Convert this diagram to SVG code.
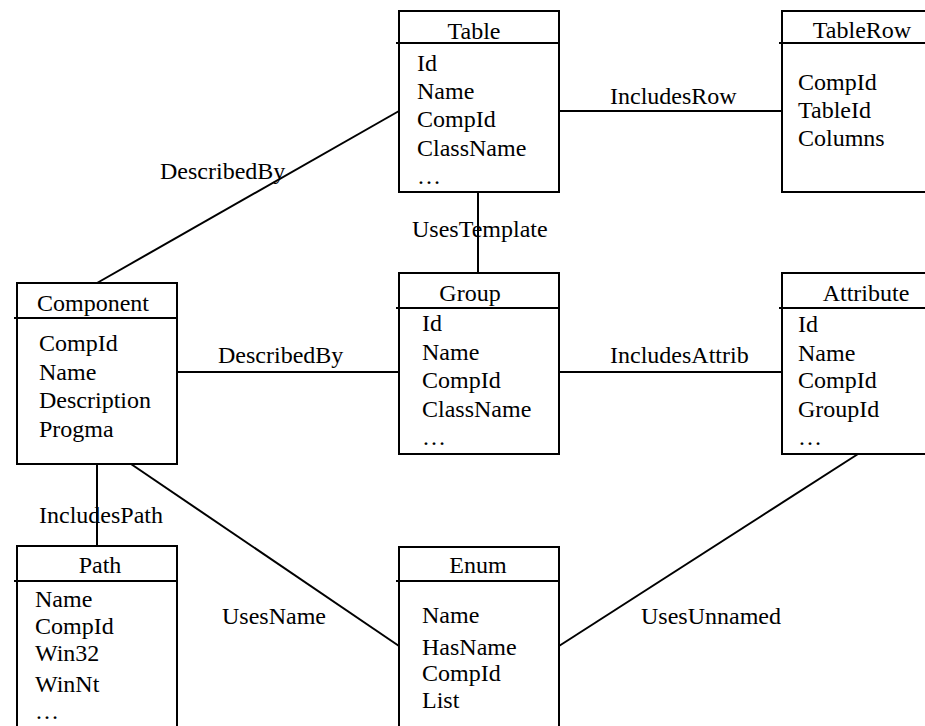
<svg xmlns="http://www.w3.org/2000/svg" width="925" height="726" viewBox="0 0 925 726">
<style>
.box{fill:#fff;stroke:#000;stroke-width:2}
.div{stroke:#000;stroke-width:2}
.con line{stroke:#000;stroke-width:2}
text{font-family:"Liberation Serif","Times New Roman",serif;font-size:24px;fill:#000}
.t{text-anchor:middle}
</style>
<rect width="925" height="726" fill="#fff"/>
<g id="connectors" class="con">
<line x1="559" y1="111" x2="782" y2="111"/>
<line x1="399" y1="111" x2="97" y2="283"/>
<line x1="478" y1="192" x2="478" y2="273"/>
<line x1="177" y1="372" x2="399" y2="372"/>
<line x1="559" y1="372" x2="782" y2="372"/>
<line x1="97" y1="464" x2="97" y2="546"/>
<line x1="131" y1="464" x2="399" y2="646"/>
<line x1="858" y1="454" x2="559" y2="646"/>
<text x="610" y="104">IncludesRow</text>
<text x="160" y="179">DescribedBy</text>
<text x="412" y="237">UsesTemplate</text>
<text x="218" y="363">DescribedBy</text>
<text x="610" y="363">IncludesAttrib</text>
<text x="39" y="523">IncludesPath</text>
<text x="222" y="624">UsesName</text>
<text x="641" y="624">UsesUnnamed</text>
</g>
<g id="table">
<rect class="box" x="399" y="11" width="160" height="181"/>
<line class="div" x1="396" y1="43" x2="559" y2="43"/>
<text class="t" x="474" y="39">Table</text>
<text x="417" y="71">Id</text>
<text x="417" y="99">Name</text>
<text x="417" y="127">CompId</text>
<text x="417" y="156">ClassName</text>
<text x="417" y="184">…</text>
</g>
<g id="tablerow">
<rect class="box" x="782" y="11" width="160" height="181"/>
<line class="div" x1="779" y1="43" x2="942" y2="43"/>
<text class="t" x="862" y="38">TableRow</text>
<text x="798" y="90">CompId</text>
<text x="798" y="118">TableId</text>
<text x="798" y="146">Columns</text>
</g>
<g id="component">
<rect class="box" x="17" y="283" width="160" height="181"/>
<line class="div" x1="14" y1="318" x2="177" y2="318"/>
<text class="t" x="93" y="311">Component</text>
<text x="39" y="351">CompId</text>
<text x="39" y="380">Name</text>
<text x="39" y="408">Description</text>
<text x="39" y="437">Progma</text>
</g>
<g id="group">
<rect class="box" x="399" y="273" width="160" height="181"/>
<line class="div" x1="396" y1="308" x2="559" y2="308"/>
<text class="t" x="470" y="301">Group</text>
<text x="422" y="331">Id</text>
<text x="422" y="360">Name</text>
<text x="422" y="388">CompId</text>
<text x="422" y="417">ClassName</text>
<text x="422" y="445">…</text>
</g>
<g id="attribute">
<rect class="box" x="782" y="273" width="160" height="181"/>
<line class="div" x1="779" y1="308" x2="942" y2="308"/>
<text class="t" x="866" y="301">Attribute</text>
<text x="798" y="332">Id</text>
<text x="798" y="361">Name</text>
<text x="798" y="388">CompId</text>
<text x="798" y="417">GroupId</text>
<text x="798" y="445">…</text>
</g>
<g id="path">
<rect class="box" x="17" y="546" width="160" height="190"/>
<line class="div" x1="14" y1="581" x2="177" y2="581"/>
<text class="t" x="100" y="573">Path</text>
<text x="35" y="607">Name</text>
<text x="35" y="634">CompId</text>
<text x="35" y="661">Win32</text>
<text x="35" y="692">WinNt</text>
<text x="35" y="719">…</text>
</g>
<g id="enum">
<rect class="box" x="399" y="547" width="160" height="190"/>
<line class="div" x1="396" y1="581" x2="559" y2="581"/>
<text class="t" x="478" y="573">Enum</text>
<text x="422" y="623">Name</text>
<text x="422" y="655">HasName</text>
<text x="422" y="681">CompId</text>
<text x="422" y="708">List</text>
</g>
</svg>
